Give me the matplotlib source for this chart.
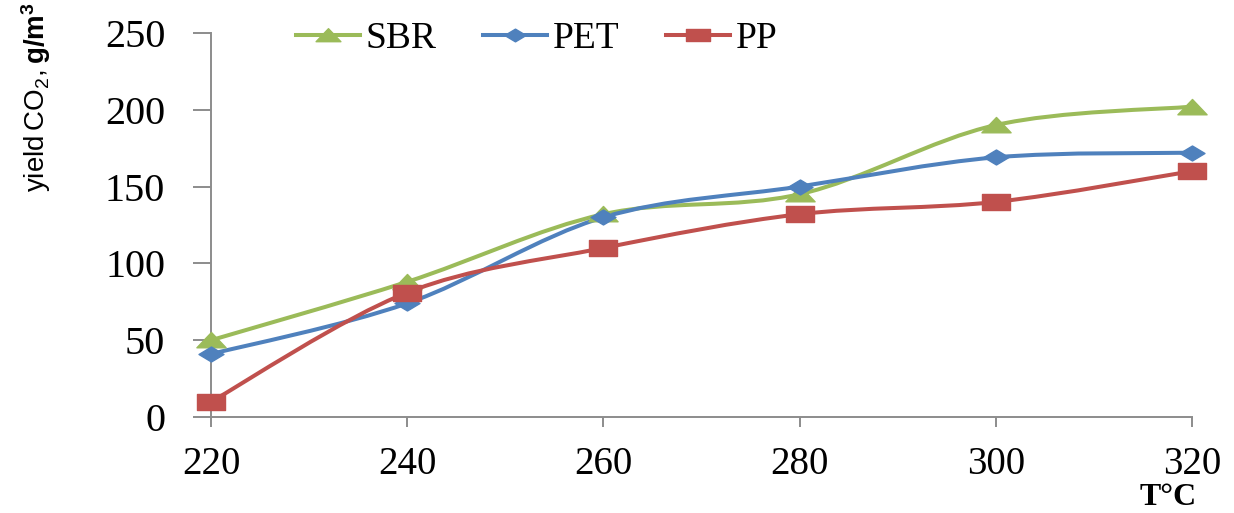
import matplotlib
matplotlib.use("Agg")
import matplotlib.pyplot as plt
import numpy as np
from matplotlib.path import Path
from matplotlib.patches import PathPatch
from matplotlib.lines import Line2D

temps = [220, 240, 260, 280, 300, 320]
sbr = [50, 88, 132, 145, 190, 202]
pet = [41, 74, 130, 150, 169, 172]
pp = [10, 81, 110, 132, 140, 160]

series_names = ["SBR", "PET", "PP"]
colors = ["#9BBB59", "#4F81BD", "#C0504D"]

# wide, flat markers
tri = Path([(-1, -0.5), (1, -0.5), (0, 0.55), (-1, -0.5)], closed=True)
dia = Path([(-1, 0), (0, 0.6), (1, 0), (0, -0.6), (-1, 0)], closed=True)
sq = Path([(-1, -0.55), (1, -0.55), (1, 0.55), (-1, 0.55), (-1, -0.55)], closed=True)
markers = [tri, dia, sq]
msizes = [21, 18, 20]

plt.rcParams["font.family"] = ["Liberation Serif", "DejaVu Serif"]
plt.rcParams["mathtext.fontset"] = "custom"
plt.rcParams["mathtext.rm"] = "Liberation Sans"
plt.rcParams["mathtext.bf"] = "Liberation Sans:bold"


def smooth_path(x, y):
    # cubic bezier through every point (catmull-rom style tangents)
    pts = np.column_stack([x, y]).astype(float)
    ext = np.vstack([pts[0], pts, pts[-1]])
    verts = [tuple(pts[0])]
    codes = [Path.MOVETO]
    for i in range(len(pts) - 1):
        p0, p1, p2, p3 = ext[i], ext[i + 1], ext[i + 2], ext[i + 3]
        c1 = p1 + (p2 - p0) / 6
        c2 = p2 - (p3 - p1) / 6
        verts += [tuple(c1), tuple(c2), tuple(p2)]
        codes += [Path.CURVE4] * 3
    return Path(verts, codes)


fig = plt.figure(figsize=(12.34, 5.13), dpi=100)
ax = fig.add_axes([0.171, 0.187, 0.795, 0.749])

for vals, c, m, ms in zip([sbr, pet, pp], colors, markers, msizes):
    ax.add_patch(PathPatch(smooth_path(temps, vals), fill=False,
                           edgecolor=c, lw=2.9, capstyle="round",
                           joinstyle="round", zorder=2))
    ax.plot(temps, vals, linestyle="none", marker=m, ms=ms,
            color=c, mec=c, zorder=3, clip_on=False)

ax.set_xlim(220, 320)
ax.set_ylim(0, 250)
ax.set_xticks(temps)
ax.set_yticks([0, 50, 100, 150, 200, 250])

for s in ["top", "right"]:
    ax.spines[s].set_visible(False)
for s in ["left", "bottom"]:
    ax.spines[s].set_color("#8c8c8c")
    ax.spines[s].set_linewidth(1.4)

ax.tick_params(axis="x", direction="out", length=7, width=1.4,
               color="#8c8c8c", pad=14, labelsize=28)
ax.tick_params(axis="y", direction="out", length=13, width=1.4,
               color="#8c8c8c", pad=20, labelsize=29)

handles = [Line2D([], [], color=c, lw=2.9, marker=m, ms=ms * 0.85, mec=c)
           for c, m, ms in zip(colors, markers, msizes)]
fig.legend(handles, series_names, loc="center", ncol=3, frameon=False,
           bbox_to_anchor=(0.435, 0.925), fontsize=27, handlelength=1.7,
           handletextpad=0.15, columnspacing=1.25)

fig.text(0.029, 0.81, r"$\mathrm{yield\,CO_2,}\mathbf{g/m^3}$",
         rotation=90, ha="center", va="center", fontsize=20)
fig.text(0.947, 0.002, "T°C", ha="center", va="bottom",
         fontsize=23, fontweight="bold")

fig.savefig("out.png", dpi=100)
